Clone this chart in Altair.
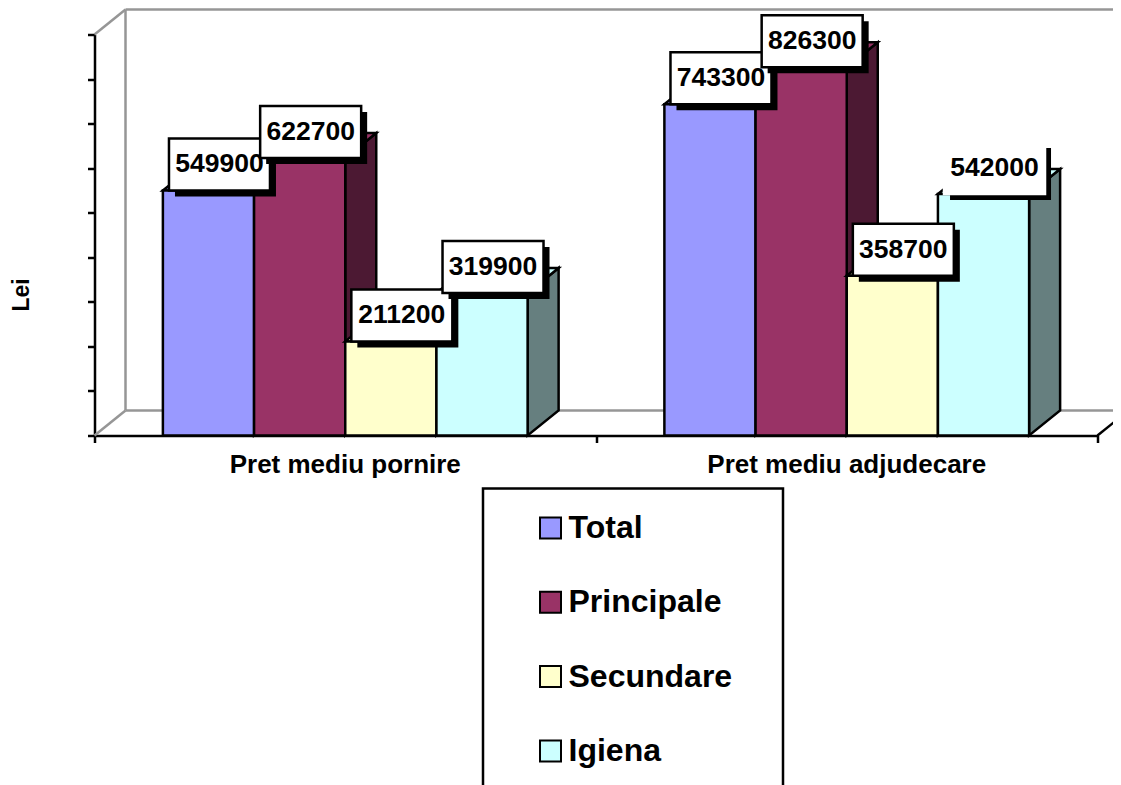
import altair as alt
import pandas as pd

categories = ["Pret mediu pornire", "Pret mediu adjudecare"]
series = ["Total", "Principale", "Secundare", "Igiena"]
values = {
    "Total": [549900, 743300],
    "Principale": [622700, 826300],
    "Secundare": [211200, 358700],
    "Igiena": [319900, 542000],
}
front_colors = ["#9999FF", "#993366", "#FFFFCC", "#CCFFFF"]
side_colors = ["#4C1933", "#4C1933", "#7F7F66", "#667F7F"]
y_ticks = list(range(0, 900001, 100000))
unboxed_labels = [542000]

FONT = "Liberation Sans"
PW, PH = 1003, 401
YMAX = 900000
KX = 2 / PW
KY = YMAX / PH
DX, DY = 31 * KX, 25 * KY
BAR = 1 / 5.5
BW, BH = 101 * KX, 52 * KY

xs = alt.Scale(domain=[0, 2], nice=False, zero=False)
ys = alt.Scale(domain=[0, YMAX], nice=False, zero=False)
X = lambda f: alt.X(f, type="quantitative", scale=xs, axis=None)
X2 = lambda f: alt.X2(f)
Y = lambda f: alt.Y(f, type="quantitative", scale=ys, axis=None, stack=None)
Y2 = lambda f: alt.Y2(f)

colour = alt.Color(
    "series:N",
    scale=alt.Scale(domain=series, range=front_colors),
    legend=alt.Legend(
        orient="none", legendX=440, legendY=477.5, title=None, padding=0,
        symbolType="square", symbolSize=441, symbolStrokeColor="black",
        symbolStrokeWidth=2, symbolOpacity=1, labelFont=FONT, labelFontWeight="bold",
        labelFontSize=32, labelColor="black", labelOffset=2, rowPadding=42.3,
        labelLimit=300, symbolFillColor="white",
    ),
)

rows = []
for s, name in enumerate(series):
    for c, v in enumerate(values[name]):
        x0 = c + BAR * (0.75 + s)
        rows.append(dict(series=name, s=s, c=c, v=v, x0=x0, x1=x0 + BAR, base=0,
                         lx0=x0 + BAR / 2 + 11 * KX - BW / 2,
                         lx1=x0 + BAR / 2 + 11 * KX + BW / 2,
                         ly0=v, ly1=v + BH,
                         sx0=x0 + BAR / 2 + 11 * KX - BW / 2 + 6 * KX,
                         sx1=x0 + BAR / 2 + 11 * KX + BW / 2 + 6 * KX,
                         sy0=v - 6 * KY, sy1=v + BH - 6 * KY,
                         tx=x0 + BAR / 2 + 11 * KX, ty=v + BH / 2,
                         label=str(v)))
bars = pd.DataFrame(rows)

# frame
axes = alt.Chart(pd.DataFrame({"x": [0], "y": [0]})).mark_point(opacity=0).encode(
    x=alt.X("x:Q", scale=xs, axis=alt.Axis(
        values=[0, 1, 2], labels=False, title=None, grid=False, domainColor="black",
        domainWidth=2.5, tickColor="black", tickWidth=2.5, tickSize=7)),
    y=alt.Y("y:Q", scale=ys, axis=alt.Axis(
        values=y_ticks, labels=False, title="Lei", grid=False, domainColor="black",
        domainWidth=2.5, tickColor="black", tickWidth=2.5, tickSize=7, titleFont=FONT,
        titleFontWeight="bold", titleFontSize=23, titleColor="black", titleX=-61, titleY=260)),
)

grey = pd.DataFrame([
    dict(g=0, x=0, y=0), dict(g=0, x=DX, y=DY),
    dict(g=1, x=0, y=YMAX), dict(g=1, x=DX, y=YMAX + DY),
    dict(g=2, x=DX, y=DY), dict(g=2, x=DX, y=YMAX + DY),
    dict(g=3, x=DX, y=YMAX + DY), dict(g=3, x=2 + DX, y=YMAX + DY),
    dict(g=4, x=DX, y=DY), dict(g=4, x=2 + DX, y=DY),
])
walls = alt.Chart(grey).mark_line(color="#969696", strokeWidth=2.5).encode(
    x=X("x"), y=Y("y"), detail="g:N", order="x:Q")
edge = alt.Chart(pd.DataFrame({"x": [2, 2 + DX], "y": [0, DY]})).mark_line(
    color="black", strokeWidth=2.5).encode(x=X("x"), y=Y("y"))

layers = [axes, walls, edge]

# bars, back to front within each group
for s, name in enumerate(series):
    sub = bars[bars.s == s]
    side = []
    top = []
    for r in sub.itertuples():
        side += [dict(c=r.c, x=r.x1, lo=0, hi=r.v), dict(c=r.c, x=r.x1 + DX, lo=DY, hi=r.v + DY)]
        top += [dict(c=r.c, x=r.x0, lo=r.v, hi=r.v),
                dict(c=r.c, x=r.x0 + DX, lo=r.v, hi=r.v + DY),
                dict(c=r.c, x=r.x1, lo=r.v, hi=r.v + DY),
                dict(c=r.c, x=r.x1 + DX, lo=r.v + DY, hi=r.v + DY)]
    layers.append(alt.Chart(pd.DataFrame(side)).mark_area(
        orient="vertical", fill=side_colors[s], stroke="black", strokeWidth=2.5, opacity=1
    ).encode(x=X("x"), y=Y("hi"), y2=Y2("lo"), detail="c:N"))
    layers.append(alt.Chart(pd.DataFrame(top)).mark_area(
        orient="vertical", fill=front_colors[s], stroke="black", strokeWidth=2.5, opacity=1
    ).encode(x=X("x"), y=Y("hi"), y2=Y2("lo"), detail="c:N"))
    layers.append(alt.Chart(sub).mark_rect(stroke="black", strokeWidth=2.5, opacity=1).encode(
        x=X("x0"), x2=X2("x1"), y=Y("base"), y2=Y2("v"), color=colour))

# value labels with their drop shadows
test = " || ".join(f"datum.v == {v}" for v in unboxed_labels)
for s, name in enumerate(series):
    sub = bars[bars.s == s]
    layers.append(alt.Chart(sub).mark_rect(fill="black").encode(
        x=X("sx0"), x2=X2("sx1"), y=Y("sy0"), y2=Y2("sy1")))
    layers.append(alt.Chart(sub).mark_rect(fill="white", strokeWidth=2.5).encode(
        x=X("lx0"), x2=X2("lx1"), y=Y("ly0"), y2=Y2("ly1"),
        stroke=alt.condition(test, alt.value("white"), alt.value("black"))))
    layers.append(alt.Chart(sub).mark_text(
        font=FONT, fontWeight="bold", fontSize=26.5, color="black", baseline="middle", align="center"
    ).encode(x=X("tx"), y=Y("ty"), text="label:N"))

# category labels
cat_df = pd.DataFrame({"x": [i + 0.5 for i in range(len(categories))], "y": 0, "t": categories})
layers.append(alt.Chart(cat_df).mark_text(
    font=FONT, fontWeight="bold", fontSize=26, color="black", dy=29, baseline="middle", align="center"
).encode(x=X("x"), y=Y("y"), text="t:N"))

# legend frame
layers.append(alt.Chart(pd.DataFrame({"a": [0]})).mark_rect(
    fill="white", stroke="black", strokeWidth=2.5, opacity=1
).encode(x=alt.value(388.5), x2=alt.value(688.5), y=alt.value(454), y2=alt.value(790)))

chart = alt.layer(*layers).resolve_axis(x="independent", y="independent").properties(
    width=PW, height=PH,
    autosize=alt.AutoSizeParams(type="none", contains="content"),
    padding={"left": 86.5, "top": 26.5, "right": 15.5, "bottom": 349.5},
    background="white",
).configure_view(stroke=None)

chart.save("out.html", embed_options={"renderer": "svg", "actions": False})
